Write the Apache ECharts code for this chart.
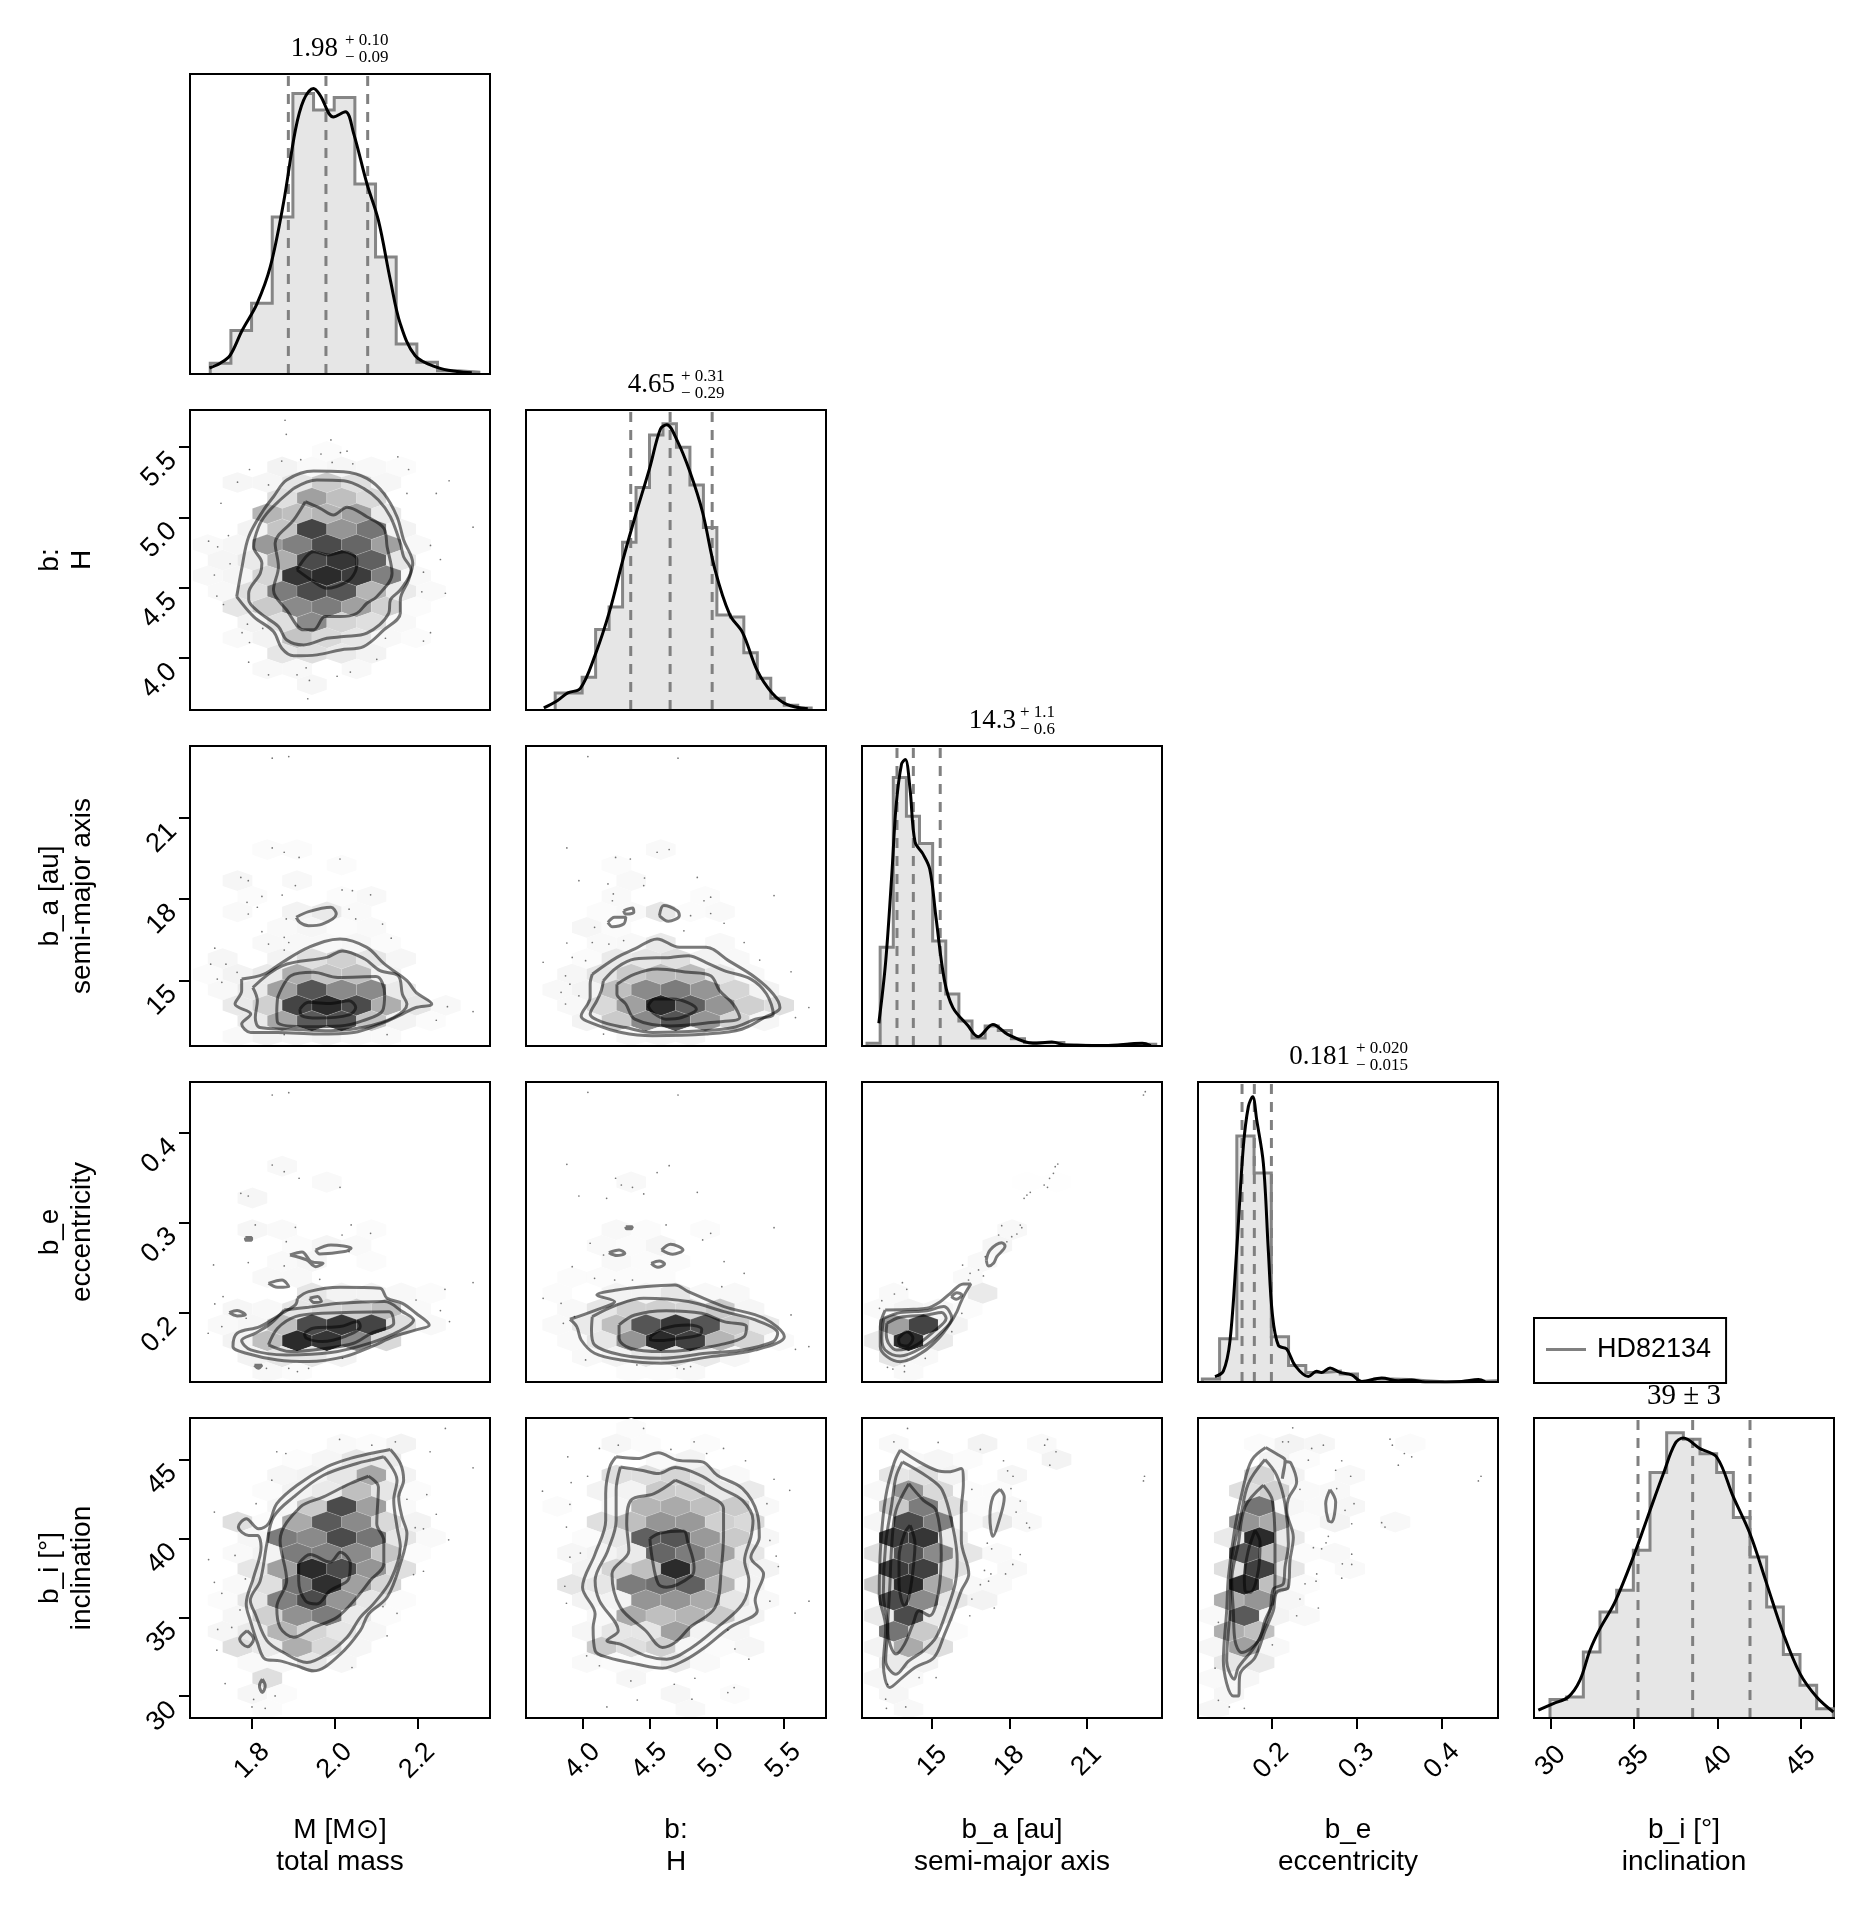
<!DOCTYPE html>
<html><head><meta charset="utf-8"><style>html,body{margin:0;background:#fff}#c{width:1866px;height:1906px}</style>
<script src="https://cdn.jsdelivr.net/npm/echarts@6/dist/echarts.min.js"></script></head><body><div id="c"></div>
<script>
const varKeys=['M','H','a','e','i'];
const varTitles=['M [M⊙]\ntotal mass','b:\nH','b_a [au]\nsemi-major axis','b_e\neccentricity','b_i [°]\ninclination'];
const xRanges=[[1.650,2.376],[3.578,5.818],[12.27,23.93],[0.1141,0.4656],[29,47]];
const yRanges=[null,[3.63,5.763],[12.58,23.65],[0.1222,0.4569],[28.62,47.63]];
const tickValues=[[1.8,2.0,2.2],[4.0,4.5,5.0,5.5],[15,18,21],[0.2,0.3,0.4],[30,35,40,45]];
const tickDecimals=[1,1,0,1,0];
const binCentre=[1.945,4.695,14.08,0.1859,38.07];
const binStep=[0.036,0.1105,0.575,0.0177,0.99];

const histStart=[1.699,3.796,12.466,0.1192,29.96];
const histWidth=[0.05,0.1006,0.51,0.0202,1.0];
const hist_M=[.036,.145,.236,.523,.935,.88,.922,.633,.39,.1,.039,.011,.006];
const hist_H=[.057,.057,.109,.268,.343,.559,.742,.917,.954,.876,.75,.608,.317,.31,.191,.106,.039,.016,.007];
const hist_a=[.009,.329,.895,.766,.675,.35,.173,.083,.027,.067,.052,.024,.012,.012,.012,.003,.001,.001,.001,.006,.006,.006];
const hist_e=[.01,.144,.82,.697,.151,.055,.032,.036,.027,.002,.01,.008,.004,.001,0,.002,.004];
const hist_i=[.062,.07,.22,.353,.426,.559,.818,.951,.929,.881,.818,.668,.537,.37,.212,.109,.031];
const hists=[hist_M,hist_H,hist_a,hist_e,hist_i];

const kde_M=[[1.697,.02],[1.723,.036],[1.747,.062],[1.776,.145],[1.812,.234],[1.844,.356],[1.876,.568],[1.905,.813],[1.925,.913],[1.949,.952],[1.965,.929],[1.997,.857],[2.026,.874],[2.046,.802],[2.078,.635],[2.106,.512],[2.135,.312],[2.159,.167],[2.195,.061],[2.248,.022],[2.296,.008],[2.332,.004]];
const kde_H=[[3.711,.007],[3.811,.031],[3.89,.057],[3.984,.072],[4.094,.183],[4.204,.332],[4.299,.496],[4.393,.645],[4.503,.809],[4.581,.936],[4.629,.951],[4.707,.898],[4.802,.794],[4.896,.66],[4.99,.466],[5.1,.317],[5.195,.258],[5.305,.131],[5.415,.057],[5.525,.019],[5.682,.004]];
const kde_a=[[12.924,.076],[13.186,.277],[13.431,.575],[13.594,.799],[13.807,.94],[13.954,.955],[14.134,.859],[14.331,.68],[14.625,.642],[14.903,.59],[15.149,.426],[15.476,.218],[15.803,.128],[16.376,.069],[16.785,.031],[17.357,.072],[17.93,.039],[18.911,.009],[19.647,.013],[20.22,.003],[21.692,.0015],[23.164,.009],[23.492,.0015]];
const kde_e=[[.134,.018],[.1438,.036],[.1516,.138],[.1594,.438],[.1672,.784],[.1731,.918],[.1782,.951],[.1829,.873],[.1907,.728],[.1965,.438],[.2012,.227],[.2083,.122],[.218,.11],[.2278,.055],[.2434,.018],[.2532,.036],[.259,.032],[.2688,.047],[.2805,.032],[.2942,.024],[.3059,.002],[.3293,.013],[.3489,.004],[.3645,.007],[.3801,0],[.4231,.002],[.4426,.008],[.4504,.001]];
const kde_i=[[29.26,.026],[30.16,.048],[31.06,.07],[31.76,.126],[32.36,.226],[32.96,.298],[33.86,.387],[34.96,.537],[35.96,.692],[36.76,.814],[37.46,.914],[37.96,.933],[38.96,.898],[39.96,.87],[40.96,.737],[41.96,.614],[42.96,.448],[43.96,.281],[44.96,.148],[45.96,.07],[46.96,.02]];
const kdes=[kde_M,kde_H,kde_a,kde_e,kde_i];
const quantiles=[[1.888,1.979,2.08],[4.36,4.654,4.968],[13.63,14.265,15.31],[.1657,.1801,.2001],[35.24,38.52,41.96]];

const hex_M_H=[[7,1,3],[6,-2,8,4,6,5,3],[5,-5,6,6,12,25,15,6],[4,-2,15,45,30,18],[3,-3,35,30,35,45,10],[2,-4,8,28,88,50,65,8],[1,-7,4,6,48,60,85,72,45,5],[0,-6,7,10,38,85,95,75,12],[-1,-7,5,7,20,95,100,92,60,5],[-2,-6,5,15,62,85,80,35,10,4],[-3,-5,12,25,55,62,45,22,3],[-4,-4,8,15,55,20,15,5],[-5,-5,4,8,28,18,12,5,3],[-6,-2,12,15,10,8],[-7,-3,5,5,0,5],[-8,0,6]];
const hex_M_a=[[10,-3,3,3],[9,2,3],[8,-5,6,0,5],[7,-4,3,0,0,3,5],[6,-5,4,0,8,10,4],[5,-2,4,6,3,4],[4,-3,5,5,5,6,3],[3,-6,6,0,8,15,22,12,6],[2,-7,3,8,10,38,28,30,8],[1,-6,5,10,45,80,55,55,10],[0,-5,10,22,88,100,85,38,12,5],[-1,-4,10,42,78,82,28,8,3],[-2,-5,4,8,6,8,5,4]];
const hex_H_a=[[10,-1,4],[9,-4,3],[8,-3,5],[7,-4,4,0,0,3],[6,-5,3,4,12,3,4],[5,-6,6,3],[4,-5,4,5,10,0,5],[3,-6,3,10,12,15,8,5],[2,-7,6,12,25,32,32,12,5],[1,-8,5,8,30,55,62,50,20,8],[0,-7,5,18,45,100,75,50,22,15],[-1,-6,8,25,55,80,50,20,6],[-2,-3,5,6,6]];
const hex_M_e=[[10,-2,5],[9,1,4],[8,-4,6],[6,-4,6,4,0,0,3],[5,-1,3,7,4],[4,-2,4,6,0,3],[3,-3,5,5],[2,0,12,8,8,5,3],[1,-5,6,5,12,18,22,30,4],[0,-6,4,6,30,85,95,88,15,5],[-1,-5,8,30,100,95,55,18],[-2,-4,8,12,12,8],[-3,-3,5,3]];
const hex_H_e=[[9,-3,5],[6,-4,5,3,0,3],[5,-5,4,3,7],[4,-4,5,3,3],[3,-7,3,3,3,3],[2,-8,3,0,8,8,12,5,5],[1,-7,5,12,22,22,20,25,6],[0,-8,4,10,30,80,95,80,25,10],[-1,-7,4,12,50,100,90,35,20,4],[-2,-6,5,8,12,15,10,6],[-3,-3,3,3,5]];
const hex_a_e=[[9,8,1,1],[6,7,5],[5,6,7],[4,5,5],[3,4,4],[2,-1,4,0,0,10],[1,-2,4,8,6,3],[0,-1,45,88,8],[-1,-2,10,100,10],[-2,-1,12,5],[-3,0,4]];
const hex_M_i=[[8,2,4,3,8],[7,-1,2,6,12,10],[6,-2,6,8,12,42,8],[5,-3,3,8,10,30,12,3],[4,-2,6,25,85,45,4],[3,-5,15,3,40,78,55,18,8],[2,-4,6,62,55,85,65,12,4],[1,-5,4,8,62,60,55,28,3],[0,-4,12,45,100,85,50,15],[-1,-5,4,15,65,98,45,20],[-2,-6,3,12,60,85,50,12,3],[-3,-5,6,22,52,62,10,3],[-4,-6,6,10,35,20,12,6],[-5,-5,15,10,38,18,6],[-6,-4,4,5,12,6],[-7,-3,15],[-8,-4,6,3],[-9,-3,3]];
const hex_H_i=[[9,-3,3],[8,-4,6,3,0,3],[7,-1,4,8],[6,-4,15,15,20,12,4],[5,-5,8,8,25,22,10,10],[4,-8,3,0,6,35,40,30,25,5],[3,-5,15,30,50,48,22,18],[2,-6,3,12,75,80,48,25,6],[1,-7,6,8,10,72,62,42,12],[0,-6,8,20,30,100,50,15,8],[-1,-7,12,12,62,68,75,35,8],[-2,-6,8,8,50,50,40,12,5],[-3,-5,5,40,30,35,25,8],[-4,-6,6,12,12,45,8,6],[-5,-5,25,15,22,6,3,6],[-6,-6,4,3,5,10,4],[-7,-3,6],[-8,0,6,0,3],[-9,1,5]];
const hex_a_i=[[8,-1,5,0,0,8,0,4],[7,0,5,6,3,0,0,8],[6,-1,12,15,8,0,6],[5,-2,5,50,18,3,3],[4,-1,25,62,15,3,5],[3,-2,6,85,60,5,10,5],[2,-1,92,95,10],[1,-2,15,80,55,12,4],[0,-1,92,90,15,0,5],[-1,-2,25,100,40,5,4],[-2,-1,85,55,12,8],[-3,-2,10,85,10],[-4,-1,65,25,3],[-5,-2,8,40,15],[-6,-1,10,8],[-7,-2,6,5],[-8,-1,6],[-9,0,5]];
const hex_e_i=[[8,0,3,8,6,0,0,3],[7,1,8,3],[6,0,20,8,0,5],[5,-1,15,22,4,5],[4,0,65,6,4,6],[3,-1,50,40,3,8,0,5],[2,-2,10,100,10],[1,-1,80,30,3,5],[0,-2,15,90,12,0,4],[-1,-1,100,30,3],[-2,-2,38,50,6],[-3,-3,4,78,8,5],[-4,-2,38,30],[-5,-3,6,45,5],[-6,-2,12,10],[-7,-3,4,6],[-8,-2,6],[-9,-3,6]];

const cont_M_H=[
[[1.763,4.436],[1.776,4.649],[1.792,4.862],[1.828,5.052],[1.852,5.146],[1.884,5.265],[1.949,5.329],[2.022,5.324],[2.078,5.277],[2.119,5.17],[2.151,5.004],[2.167,4.839],[2.189,4.673],[2.179,4.555],[2.159,4.413],[2.159,4.318],[2.119,4.199],[2.07,4.081],[2.014,4.057],[1.957,4.022],[1.901,4.015],[1.872,4.069],[1.852,4.188],[1.804,4.294]],
[[1.901,5.206],[1.957,5.265],[2.022,5.26],[2.07,5.206],[2.106,5.123],[2.135,5.004],[2.159,4.815],[2.167,4.72],[2.185,4.626],[2.159,4.484],[2.135,4.413],[2.131,4.318],[2.078,4.176],[2.022,4.152],[1.981,4.14],[1.925,4.093],[1.884,4.128],[1.864,4.223],[1.82,4.318],[1.792,4.413],[1.792,4.46],[1.82,4.602],[1.824,4.673],[1.804,4.791],[1.816,4.933],[1.836,5.028],[1.868,5.123]],
[[1.929,5.111],[1.965,5.064],[1.997,5.016],[2.03,5.071],[2.078,5.004],[2.119,4.922],[2.127,4.791],[2.139,4.602],[2.102,4.436],[2.078,4.389],[2.054,4.318],[2.014,4.294],[1.977,4.294],[1.949,4.2],[1.925,4.2],[1.884,4.341],[1.852,4.484],[1.864,4.649],[1.856,4.815],[1.901,4.981]],
[[1.909,4.626],[1.949,4.756],[1.985,4.732],[2.022,4.756],[2.054,4.697],[2.05,4.614],[2.03,4.543],[1.981,4.495],[1.949,4.543]]];
const cont_M_a=[
[[1.775,15.05],[1.829,15.23],[1.873,15.66],[1.937,16.22],[2.013,16.53],[2.078,16.22],[2.121,15.6],[2.175,14.99],[2.197,14.56],[2.235,14.13],[2.197,14.0],[2.164,13.76],[2.11,13.39],[2.046,13.08],[1.959,13.02],[1.862,13.08],[1.797,13.08],[1.775,13.39],[1.797,13.76],[1.759,14.13],[1.775,14.62]],
[[1.802,14.74],[1.873,15.54],[1.981,15.85],[2.019,16.09],[2.073,15.79],[2.11,15.36],[2.154,15.17],[2.164,14.49],[2.175,14.13],[2.143,13.63],[2.067,13.26],[1.991,13.14],[1.894,13.2],[1.819,13.26],[1.808,13.63],[1.813,14.25]],
[[1.862,14.37],[1.894,15.17],[1.948,15.3],[2.008,15.11],[2.1,15.14],[2.121,14.5],[2.116,13.88],[2.067,13.51],[2.013,13.32],[1.937,13.29],[1.862,13.45],[1.86,13.88]],
[[1.916,13.94],[1.937,14.19],[1.991,14.15],[2.035,14.25],[2.051,14.0],[2.035,13.73],[1.959,13.61],[1.921,13.69]],
[[1.907,17.33],[1.937,17.54],[1.991,17.7],[2.004,17.45],[1.97,17.08],[1.937,17.02],[1.916,17.14]]];
const cont_H_a=[
[[4.073,15.23],[4.257,15.85],[4.39,16.16],[4.557,16.53],[4.723,16.22],[4.923,16.22],[5.09,15.73],[5.29,15.11],[5.424,14.5],[5.474,14.0],[5.357,13.63],[5.19,13.2],[4.923,13.02],[4.523,12.96],[4.29,13.08],[4.09,13.39],[3.99,13.69],[4.057,14.37],[4.057,14.87]],
[[4.156,14.99],[4.257,15.48],[4.39,15.79],[4.657,15.85],[4.79,15.91],[4.923,15.66],[5.057,15.36],[5.257,15.05],[5.374,14.5],[5.424,13.76],[5.29,13.57],[5.124,13.26],[4.89,13.14],[4.523,13.08],[4.323,13.26],[4.156,13.45],[4.057,13.76],[4.107,14.25],[4.14,14.62]],
[[4.257,14.86],[4.39,15.23],[4.557,15.42],[4.79,15.3],[4.957,15.17],[5.024,14.62],[5.124,14.13],[5.174,13.63],[4.957,13.45],[4.657,13.32],[4.39,13.57],[4.323,14.13],[4.257,14.5]],
[[4.49,14.06],[4.54,14.31],[4.674,14.31],[4.85,13.94],[4.74,13.63],[4.624,13.57],[4.523,13.82]],
[[4.19,17.14],[4.24,17.33],[4.323,17.33],[4.307,17.08],[4.224,16.98]],
[[4.307,17.57],[4.373,17.67],[4.383,17.51],[4.323,17.45]],
[[4.574,17.39],[4.607,17.76],[4.707,17.57],[4.723,17.39],[4.64,17.18]]];
const cont_M_e=[
[[1.91,.2156],[1.937,.223],[2.013,.2279],[2.11,.2268],[2.127,.2156],[2.164,.21],[2.197,.1989],[2.229,.1859],[2.197,.1803],[2.143,.1728],[2.089,.1617],[2.024,.1505],[1.937,.145],[1.862,.1468],[1.786,.1543],[1.754,.1617],[1.764,.1766],[1.819,.184],[1.873,.1989],[1.905,.2082]],
[[1.878,.2026],[1.937,.2056],[2.013,.21],[2.121,.2119],[2.164,.2007],[2.191,.1914],[2.154,.1784],[2.089,.1662],[1.991,.155],[1.883,.1524],[1.797,.158],[1.775,.1684],[1.808,.1766],[1.846,.1877]],
[[1.84,.1636],[1.862,.1821],[1.905,.1951],[1.97,.1989],[2.132,.2007],[2.143,.1877],[2.089,.1766],[2.046,.1654],[1.981,.1598],[1.894,.1561]],
[[1.927,.1766],[1.948,.1821],[2.013,.184],[2.056,.1896],[2.062,.184],[2.024,.1728],[1.97,.1673],[1.932,.171]],
[[1.745,.1996],[1.764,.2019],[1.784,.197],[1.764,.1959]],
[[1.94,.2156],[1.959,.2175],[1.968,.2119],[1.95,.2108]],
[[1.84,.2323],[1.873,.2361],[1.889,.2286],[1.862,.2279]],
[[1.892,.2639],[1.921,.2673],[1.943,.2565],[1.972,.2546],[1.954,.2509],[1.932,.2584]],
[[1.954,.2695],[1.991,.2751],[2.04,.2714],[2.024,.2677],[1.964,.2651]],
[[1.784,.2833],[1.799,.2833],[1.799,.2803],[1.786,.2803]],
[[1.806,.1409],[1.824,.1409],[1.816,.1375]]];
const cont_H_e=[
[[3.906,.1922],[4.09,.2019],[4.24,.2119],[4.107,.2193],[4.257,.2249],[4.457,.2286],[4.69,.2305],[4.79,.223],[5.057,.2063],[5.357,.1933],[5.507,.1728],[5.29,.158],[4.957,.1505],[4.59,.1431],[4.29,.1468],[4.09,.1543],[3.99,.1691],[3.957,.184]],
[[4.073,.1951],[4.257,.2082],[4.457,.2156],[4.79,.2119],[5.057,.2007],[5.29,.1914],[5.457,.1766],[5.424,.1673],[5.19,.158],[4.923,.1543],[4.59,.1487],[4.29,.1524],[4.09,.1636],[4.067,.1803]],
[[4.273,.1859],[4.39,.197],[4.624,.2018],[4.89,.1989],[5.057,.1896],[5.224,.184],[5.207,.1728],[5.024,.1636],[4.79,.158],[4.59,.1561],[4.357,.1598],[4.273,.171]],
[[4.507,.1728],[4.607,.1821],[4.79,.1859],[4.89,.181],[4.874,.1747],[4.723,.171],[4.59,.1684],[4.507,.1691]],
[[4.197,.2665],[4.273,.2695],[4.316,.2658],[4.257,.2632]],
[[4.59,.2695],[4.657,.2759],[4.75,.2695],[4.674,.2647]],
[[4.513,.2546],[4.573,.2572],[4.613,.2539],[4.563,.2502]],
[[4.323,.2955],[4.373,.2955],[4.363,.2933],[4.33,.2933]]];
const cont_a_e=[
[[13.17,.2025],[14.27,.2033],[14.79,.2044],[15.31,.2118],[15.7,.2211],[16.21,.2315],[16.5,.2315],[16.28,.2211],[16.09,.21],[15.96,.2007],[15.7,.1877],[15.31,.1728],[14.66,.1561],[13.75,.1449],[13.24,.1505],[12.98,.1616],[12.98,.1839]],
[[13.11,.1932],[13.75,.1996],[14.79,.2018],[15.44,.2063],[15.76,.1932],[15.31,.1765],[14.66,.1616],[13.75,.1512],[13.17,.1579],[13.04,.1709]],
[[13.24,.1877],[13.75,.1944],[14.79,.197],[15.37,.1996],[15.54,.1932],[15.05,.1784],[14.27,.1616],[13.62,.1579],[13.3,.1654],[13.21,.1765]],
[[13.69,.1709],[14.01,.1784],[14.25,.1709],[14.01,.1624],[13.73,.1646]],
[[15.74,.2174],[15.96,.2219],[16.15,.2193],[15.93,.2144]],
[[17.1,.2583],[17.25,.2695],[17.7,.2776],[17.83,.2739],[17.51,.262],[17.38,.2546],[17.19,.2516]]];
const cont_M_i=[
[[2.135,45.64],[2.159,44.75],[2.167,43.69],[2.155,42.63],[2.163,41.36],[2.175,40.3],[2.159,38.39],[2.127,36.27],[2.082,35.21],[2.062,34.15],[2.014,32.67],[1.949,31.61],[1.909,31.92],[1.868,32.24],[1.832,32.35],[1.813,33.41],[1.796,34.79],[1.786,35.85],[1.804,37.54],[1.822,39.45],[1.813,40.19],[1.792,40.19],[1.767,40.72],[1.786,41.25],[1.816,40.61],[1.84,40.93],[1.86,42.2],[1.909,43.37],[1.981,44.53],[2.038,45.07],[2.086,45.38]],
[[2.119,45.17],[2.151,43.69],[2.143,42.42],[2.151,40.72],[2.159,39.45],[2.135,37.33],[2.094,35.85],[2.062,35.0],[2.03,33.73],[1.981,32.67],[1.933,32.14],[1.876,32.77],[1.836,33.53],[1.808,35.21],[1.796,36.06],[1.82,37.33],[1.836,39.66],[1.852,41.36],[1.901,42.63],[1.973,44.0],[2.054,44.75],[2.094,45.0]],
[[2.082,43.94],[2.106,43.26],[2.102,40.93],[2.119,39.87],[2.119,38.39],[2.086,37.33],[2.054,36.27],[2.006,35.0],[1.949,34.36],[1.901,33.73],[1.868,34.36],[1.86,35.63],[1.884,37.33],[1.868,39.87],[1.917,41.99],[1.973,42.63],[2.038,43.48]],
[[1.913,38.39],[1.941,38.98],[1.989,38.5],[2.014,39.13],[2.038,38.39],[2.034,37.43],[1.989,36.69],[1.957,35.85],[1.929,36.06],[1.913,37.33]],
[[1.788,34.15],[1.804,33.62],[1.789,33.13],[1.77,33.62]],
[[1.825,31.08],[1.832,30.65],[1.825,30.23],[1.818,30.65]]];
const cont_H_i=[
[[4.251,45.17],[4.409,45.06],[4.566,45.43],[4.707,44.96],[4.896,44.85],[5.006,44.0],[5.195,43.16],[5.305,41.57],[5.32,40.08],[5.257,38.81],[5.352,37.75],[5.289,36.06],[5.305,35.42],[5.1,34.36],[4.912,33.09],[4.754,32.24],[4.597,31.78],[4.409,32.03],[4.189,32.46],[4.094,32.88],[4.079,34.36],[4.094,35.21],[4.0,36.9],[4.094,39.02],[4.173,41.13],[4.173,42.84],[4.204,44.53]],
[[4.283,44.53],[4.44,44.32],[4.566,44.11],[4.692,44.49],[4.88,44.0],[5.037,43.16],[5.195,42.41],[5.273,41.14],[5.257,40.08],[5.21,38.6],[5.242,37.33],[5.195,35.85],[5.006,34.36],[4.817,33.09],[4.629,32.35],[4.472,32.56],[4.283,33.3],[4.182,33.52],[4.267,34.15],[4.126,36.06],[4.094,37.33],[4.189,39.24],[4.251,41.14],[4.251,43.05]],
[[4.692,43.69],[4.88,42.95],[5.053,41.89],[5.053,40.3],[5.037,38.18],[4.99,35.63],[4.802,34.36],[4.692,33.41],[4.597,33.09],[4.472,34.15],[4.283,35.63],[4.22,37.75],[4.346,39.24],[4.33,40.93],[4.361,42.42],[4.534,42.84]],
[[4.503,39.98],[4.581,40.34],[4.754,40.47],[4.786,39.77],[4.833,38.18],[4.817,37.65],[4.629,36.91],[4.566,37.12],[4.519,38.81]]];
const cont_a_i=[
[[13.76,45.6],[14.49,44.85],[15.15,44.32],[15.64,44.22],[16.13,44.43],[16.21,43.47],[16.13,41.78],[16.13,39.87],[16.42,37.75],[16.13,36.69],[15.8,35.21],[15.48,33.94],[15.07,32.46],[14.33,31.82],[13.84,31.18],[13.35,30.55],[13.1,32.03],[13.19,34.36],[12.94,36.48],[13.0,39.66],[13.19,42.63],[13.51,44.75]],
[[13.84,44.85],[14.82,43.9],[15.39,43.05],[15.8,40.72],[15.97,38.6],[15.89,37.12],[15.56,35.42],[15.15,33.73],[14.66,32.88],[14.09,32.24],[13.59,31.39],[13.19,32.24],[13.27,34.36],[13.1,36.48],[13.19,39.66],[13.43,42.2],[13.59,43.9]],
[[14.09,43.47],[14.66,42.41],[15.15,41.78],[15.35,39.02],[15.23,36.48],[14.9,35.1],[14.49,35.42],[14.25,34.57],[13.92,33.3],[13.59,32.67],[13.27,34.15],[13.35,36.91],[13.43,39.66],[13.59,41.78]],
[[14.14,40.83],[14.33,39.66],[14.25,37.96],[14.09,36.27],[13.92,35.74],[13.71,37.12],[13.71,38.81],[13.92,40.3]],
[[17.64,43.12],[17.8,42.63],[17.6,41.14],[17.36,40.13],[17.24,41.36],[17.36,42.63]]];
const cont_e_i=[
[[.1934,45.76],[.2083,45.28],[.2161,44.96],[.2129,43.79],[.218,44.85],[.2231,44.75],[.2297,43.58],[.22,42.52],[.218,41.78],[.2258,40.08],[.2219,38.6],[.22,36.91],[.2063,36.59],[.2024,35.42],[.1926,34.15],[.1809,32.46],[.1633,31.4],[.1614,30.02],[.1555,30.02],[.1438,32.24],[.1477,35.42],[.1497,37.54],[.1575,40.72],[.1672,43.26],[.177,44.96]],
[[.1926,45.0],[.2063,44.0],[.216,42.2],[.22,39.66],[.216,38.18],[.2141,37.12],[.2024,36.8],[.1985,35.42],[.1868,33.73],[.177,32.88],[.1614,31.82],[.1567,31.08],[.1477,32.24],[.1516,35.42],[.1536,38.6],[.1633,41.14],[.1731,43.47]],
[[.1907,43.37],[.2012,42.42],[.2043,39.66],[.2043,37.54],[.2024,36.06],[.1926,34.79],[.1848,33.51],[.1653,32.77],[.1575,33.51],[.1555,35.42],[.1536,37.33],[.1614,39.66],[.1692,41.99]],
[[.1809,40.51],[.1868,39.77],[.1848,37.97],[.1751,36.59],[.1692,36.69],[.1684,37.54],[.1731,39.24]],
[[.2688,43.09],[.2754,42.31],[.2707,41.04],[.2668,41.14],[.2637,42.2]]];

const dots_M_H=[[1.88,5.69],[1.883,5.59],[1.991,5.55],[1.967,5.45],[2.014,5.46],[2.03,5.47],[2.153,5.43],[1.872,5.4],[1.918,5.41],[1.994,5.39],[2.044,5.38],[2.179,5.34],[1.794,5.34],[1.765,5.25],[1.84,5.23],[2.277,5.26],[2.175,5.17],[2.246,5.17],[1.725,5.1],[1.743,4.87],[2.335,4.93],[1.695,4.83],[1.717,4.79],[1.747,4.67],[2.232,4.8],[2.256,4.7],[2.215,4.61],[1.709,4.59],[2.268,4.46],[2.211,4.47],[1.715,4.44],[1.731,4.38],[1.789,4.24],[1.826,4.21],[1.776,4.18],[1.794,4.11],[2.123,4.14],[2.215,4.12],[2.232,4.18],[1.792,3.97],[1.84,3.88],[1.909,3.88],[1.931,3.93],[1.939,3.84],[1.935,3.71],[2.006,3.87],[2.038,3.9],[2.102,3.99]];
const dots_M_a=[[1.849,23.2],[1.889,23.26],[1.849,19.89],[1.878,19.73],[1.914,19.54],[2.013,19.48],[1.773,18.8],[1.791,18.68],[1.905,18.5],[2.018,18.34],[2.043,18.31],[2.087,18.16],[1.824,18.1],[1.873,18.15],[1.788,17.88],[1.813,17.7],[2.035,17.63],[1.791,17.45],[1.883,17.27],[2.051,17.27],[2.116,17.08],[1.824,16.8],[1.878,16.59],[1.889,16.4],[1.84,16.34],[2.137,16.56],[1.71,16.19],[1.878,16.12],[1.7,15.6],[1.737,15.6],[1.764,15.3],[1.716,15.05],[1.727,14.93],[2.335,13.85],[2.273,14.03],[2.246,13.53],[2.127,13.0],[1.878,13.0]];
const dots_H_a=[[4.04,23.26],[4.713,23.2],[3.883,19.89],[4.647,19.83],[4.557,19.73],[4.247,19.54],[4.357,19.48],[3.973,18.68],[4.463,18.78],[4.857,18.8],[4.19,18.56],[4.457,18.5],[4.23,18.19],[5.43,18.13],[4.957,18.07],[4.907,17.94],[4.223,17.94],[4.09,16.96],[4.807,17.39],[4.957,17.47],[5.057,17.11],[5.207,16.4],[3.883,16.38],[4.073,16.4],[4.197,16.34],[4.307,16.47],[4.757,16.83],[3.706,15.67],[3.923,15.85],[4.023,15.73],[5.323,15.75],[5.557,15.32],[3.873,15.17],[3.906,14.86],[3.84,14.56],[3.973,14.43],[3.873,14.13],[5.69,14.0],[5.59,13.63],[4.157,13.02]];
const dots_M_e=[[1.849,.4424],[1.889,.445],[1.849,.3643],[1.878,.3569],[1.914,.3495],[2.013,.3394],[1.773,.3327],[1.791,.3297],[1.808,.2974],[1.905,.2948],[2.04,.2974],[2.018,.2862],[2.087,.2881],[1.883,.2788],[2.035,.2677],[1.791,.2554],[1.878,.2517],[1.707,.2528],[1.964,.2368],[2.335,.2331],[2.267,.2256],[1.71,.2093],[1.73,.2175],[1.786,.1933],[1.727,.184],[1.694,.1766],[2.278,.1896],[2.256,.2019],[2.197,.2137],[1.835,.1375],[1.91,.1338],[2.019,.1487],[1.889,.1375],[1.937,.1375]];
const dots_H_e=[[4.04,.4454],[4.713,.4424],[3.883,.3651],[4.647,.3636],[4.557,.3558],[4.247,.3495],[4.29,.342],[4.373,.3394],[4.857,.3338],[3.973,.3297],[4.18,.3271],[4.457,.332],[5.43,.2944],[4.624,.2974],[4.957,.2881],[4.897,.2807],[4.057,.277],[4.157,.2639],[5.057,.2565],[5.207,.2435],[3.923,.2509],[4.09,.2379],[4.24,.236],[4.373,.236],[5.04,.2286],[3.706,.2156],[3.84,.21],[3.94,.1951],[3.857,.1877],[5.557,.197],[5.69,.1617],[5.59,.1587],[4.023,.1468],[4.406,.1412],[4.757,.1368],[4.707,.1375],[4.807,.1394]];
const dots_a_e=[[23.28,.4461],[23.21,.4424],[19.88,.3654],[19.78,.3624],[19.71,.355],[19.56,.3494],[19.35,.342],[19.48,.3394],[18.81,.3338],[18.68,.3308],[18.57,.3271],[17.7,.2966],[18.42,.2973],[18.48,.2944],[18.29,.2873],[18.09,.2843],[17.9,.2787],[17.58,.2862],[17.06,.262],[16.8,.2472],[16.99,.2405],[16.18,.2527],[16.47,.2434],[16.41,.236],[16.15,.1988],[13.84,.233],[14.01,.2256],[13.53,.2204],[13.04,.2129],[12.95,.2044],[15.76,.1784],[14.73,.1486],[13.26,.1386],[13.47,.1367],[13.92,.1401],[13.92,.1337]];
const dots_M_i=[[2.268,46.97],[2.335,44.47],[2.012,46.27],[2.09,45.91],[2.147,46.12],[1.86,45.49],[1.882,45.38],[2.231,45.49],[1.848,43.69],[2.223,42.78],[2.175,42.48],[1.81,42.2],[1.709,41.67],[2.246,41.53],[2.195,40.68],[2.215,40.61],[2.276,39.91],[1.759,38.92],[1.695,38.66],[2.191,37.71],[2.215,37.92],[1.784,37.43],[1.709,37.22],[1.727,36.52],[1.771,35.47],[2.117,35.68],[2.151,35.25],[1.751,34.36],[1.717,34.23],[1.715,32.92],[2.127,33.83],[2.042,31.82],[1.735,30.8],[1.856,30.02],[1.804,29.8],[1.8,29.32],[1.832,29.23]];
const dots_H_i=[[4.456,46.97],[4.267,45.91],[4.833,46.12],[4.126,45.7],[4.66,45.64],[5.053,45.7],[3.89,45.17],[4.927,45.38],[5.217,44.92],[4.038,43.94],[3.915,43.54],[5.43,43.75],[3.701,42.99],[5.547,43.05],[3.906,42.16],[5.377,42.2],[3.88,40.72],[5.399,39.87],[3.906,38.81],[3.984,39.07],[5.446,38.88],[5.462,38.22],[3.868,36.97],[3.88,35.89],[5.399,36.02],[5.691,36.02],[5.587,35.27],[5.085,34.2],[4.031,32.56],[5.138,33.0],[5.242,32.35],[4.126,31.93],[4.361,30.97],[4.839,31.14],[4.685,30.76],[4.409,29.76],[4.182,29.32],[4.817,29.81],[5.132,30.55],[5.085,30.23]];
const dots_a_i=[[14.04,46.97],[13.51,46.12],[15.23,46.08],[16.87,45.64],[19.48,46.27],[19.37,45.91],[19.81,45.49],[19.57,44.64],[23.25,43.94],[23.21,43.64],[17.77,44.92],[17.93,44.28],[18.14,43.94],[16.54,43.11],[18.06,43.16],[18.42,42.37],[18.26,41.67],[18.67,40.97],[18.78,40.68],[17.14,39.7],[17.31,39.34],[18.42,38.98],[18.13,38.35],[17.03,37.97],[17.28,37.75],[17.85,37.75],[17.19,37.29],[16.87,37.07],[16.54,36.16],[17.41,35.59],[16.46,35.1],[15.15,31.18],[14.49,31.18],[13.27,30.76],[13.19,29.81],[13.97,29.32],[13.22,29.23]];
const dots_e_i=[[.2251,47.01],[.2133,46.12],[.22,46.12],[.2473,45.7],[.261,45.91],[.3391,46.29],[.3418,45.91],[.3559,45.38],[.3645,45.17],[.3488,44.64],[.4457,43.94],[.4426,43.64],[.2434,44.96],[.2825,44.92],[.2754,44.32],[.293,43.94],[.2336,43.11],[.2766,43.16],[.2969,42.2],[.2864,41.78],[.2942,40.93],[.3293,41.0],[.3332,40.72],[.2668,40.13],[.2641,39.72],[.259,39.34],[.2493,39.41],[.2942,39.0],[.2942,38.35],[.2832,38.39],[.2825,37.48],[.2532,37.75],[.2524,37.29],[.2395,37.12],[.2336,36.16],[.2551,35.59],[.2297,35.1],[.2012,33.26],[.138,34.68],[.1341,31.78],[.138,29.74],[.1508,29.32],[.1684,29.23]];

const pairs=[[0,1,hex_M_H,cont_M_H,dots_M_H],[0,2,hex_M_a,cont_M_a,dots_M_a],[1,2,hex_H_a,cont_H_a,dots_H_a],[0,3,hex_M_e,cont_M_e,dots_M_e],[1,3,hex_H_e,cont_H_e,dots_H_e],[2,3,hex_a_e,cont_a_e,dots_a_e],[0,4,hex_M_i,cont_M_i,dots_M_i],[1,4,hex_H_i,cont_H_i,dots_H_i],[2,4,hex_a_i,cont_a_i,dots_a_i],[3,4,hex_e_i,cont_e_i,dots_e_i]];
const GRAY='#808080', FONT='"Liberation Sans","DejaVu Sans",sans-serif', SERIF='"Liberation Serif",serif';
const grids=[],xAxes=[],yAxes=[],series=[],graphics=[];
function addPanel(col,row,yr){
  const idx=grids.length;
  grids.push({left:190+336*col,top:74+336*row,width:300,height:300,show:true,borderColor:'#000',borderWidth:2,backgroundColor:'#fff'});
  const bottom=row===4, left=col===0&&row>0;
  xAxes.push({type:'value',gridIndex:idx,min:xRanges[col][0],max:xRanges[col][1],z:10,
    splitLine:{show:false},axisLine:{show:true,onZero:false,lineStyle:{color:'#000',width:2}},
    axisTick:{show:bottom,length:11,lineStyle:{color:'#000',width:2},customValues:tickValues[col]},
    axisLabel:{show:bottom,rotate:45,align:'center',verticalAlign:'middle',margin:43,fontFamily:FONT,fontSize:27,color:'#000',customValues:tickValues[col],formatter:v=>Number(v).toFixed(tickDecimals[col])},
    name:bottom?varTitles[col]:'',nameLocation:'middle',nameGap:96,nameTextStyle:{fontFamily:FONT,fontSize:28,lineHeight:32,color:'#000'}});
  yAxes.push({type:'value',gridIndex:idx,min:yr[0],max:yr[1],z:10,
    splitLine:{show:false},axisLine:{show:true,onZero:false,lineStyle:{color:'#000',width:2}},
    axisTick:{show:left,length:11,lineStyle:{color:'#000',width:2},customValues:left?tickValues[row]:undefined},
    axisLabel:{show:left,rotate:45,verticalAlign:'top',margin:27,fontFamily:FONT,fontSize:27,color:'#000',customValues:left?tickValues[row]:undefined,formatter:v=>Number(v).toFixed(tickDecimals[row])},
    name:left?varTitles[row]:'',nameLocation:'middle',nameGap:92,nameRotate:90,nameTextStyle:{fontFamily:FONT,fontSize:28,lineHeight:32,color:'#000'}});
  return idx;
}
const hexRender=(sx,sy)=>function(params,api){
  const x=api.value(0),y=api.value(1),d=api.value(2);
  const pts=[[x,y+sy*2/3],[x+sx,y+sy/3],[x+sx,y-sy/3],[x,y-sy*2/3],[x-sx,y-sy/3],[x-sx,y+sy/3]].map(p=>api.coord(p));
  const g=Math.round(255-2.12*(d<=8?d*0.7:d));
  const shape=echarts.graphic.clipPointsByRect(pts,params.coordSys);
  return {type:'polygon',shape:{points:shape},style:{fill:`rgb(${g},${g},${g})`,stroke:d>20?'rgba(255,255,255,0.22)':null,lineWidth:.6}};
};
pairs.forEach(([c,r,rows,conts,dots])=>{
  const idx=addPanel(c,r,yRanges[r]);
  const cells=[];
  rows.forEach(rw=>{const j=rw[0],k0=rw[1];
    rw.slice(2).forEach((d,n)=>{if(d>0)cells.push([binCentre[c]+(k0+2*n)*binStep[c],binCentre[r]+j*binStep[r],d]);});});
  series.push({type:'custom',xAxisIndex:idx,yAxisIndex:idx,silent:true,clip:true,z:2,renderItem:hexRender(binStep[c],binStep[r]),data:cells,encode:{x:0,y:1}});
  series.push({type:'scatter',xAxisIndex:idx,yAxisIndex:idx,silent:true,z:3,symbol:'circle',symbolSize:1.7,itemStyle:{color:'rgba(40,40,40,0.8)'},data:dots});
  conts.forEach(cn=>series.push({type:'line',xAxisIndex:idx,yAxisIndex:idx,silent:true,z:4,symbol:'none',smooth:0.35,clip:true,
    lineStyle:{color:'rgba(0,0,0,0.52)',width:3},data:cn.concat([cn[0]])}));
});
varKeys.forEach((k,c)=>{
  const idx=addPanel(c,c,[0,1]);
  yAxes[idx].axisTick.show=false;yAxes[idx].axisLabel.show=false;yAxes[idx].name='';
  const h=hists[c],st=histStart[c],w=histWidth[c];
  const pts=[[st,0]];h.forEach((v,i)=>{pts.push([st+i*w,v]);pts.push([st+(i+1)*w,v]);});pts.push([st+h.length*w,0]);
  series.push({type:'line',xAxisIndex:idx,yAxisIndex:idx,silent:true,z:2,symbol:'none',clip:true,areaStyle:{color:'#e6e6e6',opacity:1,origin:'start'},lineStyle:{color:GRAY,width:3,opacity:.95,join:'miter'},data:pts});
  quantiles[c].forEach(q=>series.push({type:'line',xAxisIndex:idx,yAxisIndex:idx,silent:true,z:3,symbol:'none',clip:true,lineStyle:{color:GRAY,width:3,type:[10,8]},data:[[q,0],[q,1]]}));
  series.push({type:'line',xAxisIndex:idx,yAxisIndex:idx,silent:true,z:4,symbol:'none',smooth:0.35,clip:true,lineStyle:{color:'#000',width:3},data:kdes[c]});
  if(c===4) series.push({name:'HD82134',type:'line',xAxisIndex:idx,yAxisIndex:idx,silent:true,symbol:'none',showSymbol:false,lineStyle:{color:GRAY,width:3},itemStyle:{color:GRAY},data:[]});
});
const titleParts=[
 ['1.98','+ 0.10','− 0.09',338,345],['4.65','+ 0.31','− 0.29',675,681],['14.3','+ 1.1','− 0.6',1016,1020],['0.181','+ 0.020','− 0.015',1350,1356]];
titleParts.forEach((t,i)=>{const top=74+336*i;
  graphics.push({type:'text',x:t[3],y:top-25,style:{text:t[0],font:'27px '+SERIF,fill:'#000',textAlign:'right',textVerticalAlign:'middle'}});
  graphics.push({type:'text',x:t[4],y:top-33,style:{text:t[1],font:'17px '+SERIF,fill:'#000',textAlign:'left',textVerticalAlign:'middle'}});
  graphics.push({type:'text',x:t[4],y:top-16,style:{text:t[2],font:'17px '+SERIF,fill:'#000',textAlign:'left',textVerticalAlign:'middle'}});
});
graphics.push({type:'text',x:1684,y:1396,style:{text:'39 ± 3',font:'29px '+SERIF,fill:'#000',textAlign:'center',textVerticalAlign:'middle'}});
const chart=echarts.init(document.getElementById('c'),null,{renderer:'canvas',width:1866,height:1906});
chart.setOption({animation:false,backgroundColor:'#fff',grid:grids,xAxis:xAxes,yAxis:yAxes,series,graphic:graphics,tooltip:{show:false},
  legend:{data:[{name:'HD82134',icon:'rect'}],left:1534,top:1318,padding:[18,15,20,12],borderColor:'#000',borderWidth:2,backgroundColor:'#fff',itemWidth:40,itemHeight:3,itemGap:0,itemStyle:{color:GRAY},textStyle:{fontFamily:FONT,fontSize:27,color:'#000',padding:[0,0,0,6]},selectedMode:false}});
</script></body></html>
